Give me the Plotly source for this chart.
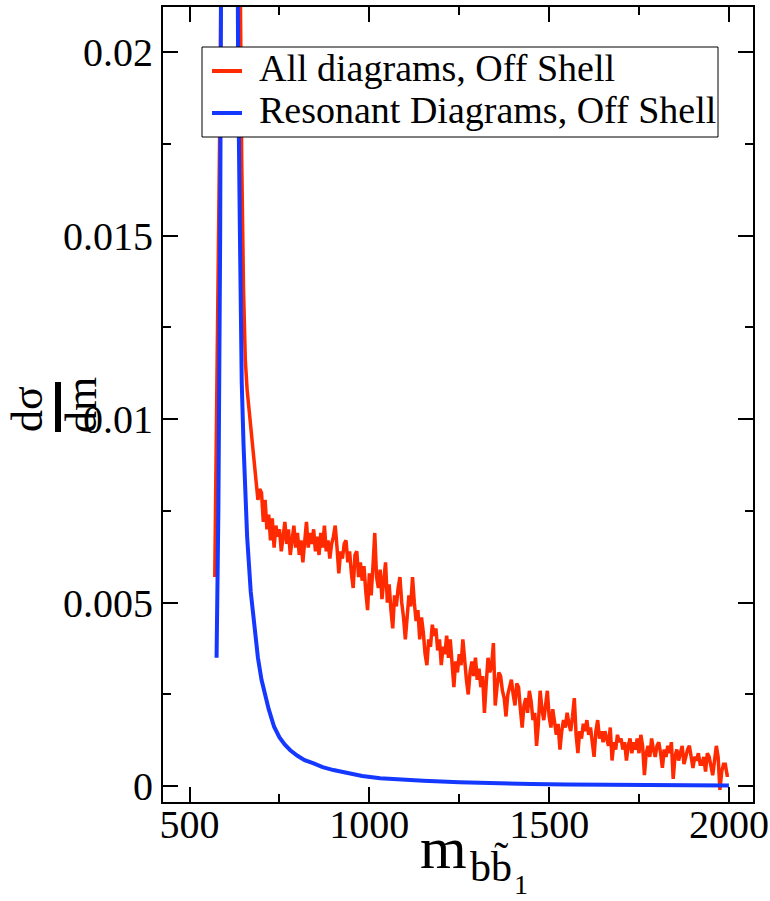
import plotly.graph_objects as go

# %%
# differential cross section (5 GeV bins)
red_x = list(range(570, 2001, 5))
red_y = [
    # 570 - 695, through the peak
    0.0057, 0.0100, 0.0145, 0.0190, 0.0260, 0.0400, 0.0600, 0.0780, 0.0850, 0.0800,
    0.0650, 0.0480, 0.0350, 0.0280, 0.0225, 0.0170, 0.0135, 0.0116, 0.0108, 0.0103,
    0.0097, 0.0093, 0.0088, 0.0084, 0.0078, 0.0081,
    # 700 - 995
    0.0080, 0.0072, 0.0078, 0.0070, 0.0074, 0.0067, 0.0073, 0.0065, 0.0071, 0.0068,
    0.0070, 0.0064, 0.0069, 0.0072, 0.0066, 0.0070, 0.0063, 0.0068, 0.0071, 0.0065,
    0.0069, 0.0063, 0.0067, 0.0061, 0.0068, 0.0072, 0.0065, 0.0069, 0.0066, 0.0070,
    0.0064, 0.0068, 0.0063, 0.0069, 0.0065, 0.0071, 0.0064, 0.0067, 0.0062, 0.0066,
    0.0068, 0.0071, 0.0065, 0.0058, 0.0064, 0.0062, 0.0066, 0.0067, 0.0061, 0.0064,
    0.0058, 0.0054, 0.0063, 0.0064, 0.0057, 0.0061, 0.0056, 0.0060, 0.0053, 0.0048,
    # 1000 - 1295
    0.0058, 0.0052, 0.0060, 0.0069, 0.0057, 0.0054, 0.0059, 0.0051, 0.0056, 0.0061,
    0.0050, 0.0055, 0.0048, 0.0043, 0.0052, 0.0049, 0.0054, 0.0057, 0.0050, 0.0046,
    0.0040, 0.0047, 0.0052, 0.0049, 0.0057, 0.0050, 0.0045, 0.0048, 0.0040, 0.0046,
    0.0042, 0.0036, 0.0033, 0.0040, 0.0038, 0.0044, 0.0041, 0.0043, 0.0037, 0.0040,
    0.0033, 0.0038, 0.0036, 0.0041, 0.0035, 0.0040, 0.0032, 0.0027, 0.0034, 0.0031,
    0.0036, 0.0033, 0.0040, 0.0034, 0.0029, 0.0025, 0.0031, 0.0034, 0.0030, 0.0035,
    # 1300 - 1595
    0.0029, 0.0032, 0.0027, 0.0030, 0.0020, 0.0028, 0.0035, 0.0031, 0.0033, 0.0039,
    0.0022, 0.0027, 0.0031, 0.0030, 0.0026, 0.0024, 0.0019, 0.0025, 0.0027, 0.0029,
    0.0025, 0.0022, 0.0028, 0.0027, 0.0021, 0.0016, 0.0022, 0.0024, 0.0020, 0.0026,
    0.0023, 0.0018, 0.0020, 0.0011, 0.0017, 0.0026, 0.0021, 0.0018, 0.0022, 0.0026,
    0.0019, 0.0016, 0.0021, 0.0018, 0.0014, 0.0017, 0.0010, 0.0015, 0.0018, 0.0016,
    0.0020, 0.0017, 0.0015, 0.0019, 0.0024, 0.0014, 0.0009, 0.0015, 0.0013, 0.0017,
    # 1600 - 1895
    0.0015, 0.0018, 0.0014, 0.0016, 0.0011, 0.0008, 0.0015, 0.0018, 0.0013, 0.0015,
    0.0012, 0.0015, 0.0013, 0.0011, 0.0016, 0.0007, 0.0012, 0.0010, 0.0014, 0.0012,
    0.0013, 0.0010, 0.0012, 0.0007, 0.0011, 0.0013, 0.0009, 0.0012, 0.0010, 0.0013,
    0.0009, 0.0014, 0.0011, 0.0003, 0.0009, 0.0011, 0.0008, 0.0013, 0.0010, 0.0008,
    0.0011, 0.0012, 0.0009, 0.0005, 0.0010, 0.0008, 0.0011, 0.0009, 0.0012, 0.0002,
    0.0008, 0.0010, 0.0007, 0.0009, 0.0011, 0.0006, 0.0008, 0.0010, 0.0011, 0.0008,
    # 1900 - 2000
    0.0005, 0.0008, 0.0007, 0.0009, 0.0006, 0.0006, 0.0008, 0.0004, 0.0009, 0.0008,
    0.0006, 0.0003, 0.0007, 0.0011, 0.0008, -0.0001, 0.0004, 0.0006, 0.0006, 0.0003,
    0.0003,
]

blue_x = [
    575, 580, 585, 590, 595, 600, 605, 610, 615, 620,
    625, 630, 635, 640, 645, 650, 655, 660, 670, 680,
    690, 700, 710, 720, 735, 750, 765, 780, 800, 820,
    845, 870, 900, 940, 980, 1030, 1080, 1150, 1250, 1350,
    1450, 1550, 1650, 1750, 1850, 1950, 2000,
]
blue_y = [
    0.0035, 0.0075, 0.0150, 0.0260, 0.0420, 0.0620, 0.0800, 0.0850, 0.0780, 0.0600,
    0.0420, 0.0270, 0.0195, 0.0150, 0.0110, 0.0093, 0.0079, 0.0068, 0.0053, 0.0043,
    0.0035, 0.0029, 0.00245, 0.0021, 0.00162, 0.00133, 0.00113, 0.00098, 0.00083, 0.00071,
    0.00062, 0.00052, 0.00044, 0.00035, 0.00028, 0.00022, 0.00018, 0.00015, 0.00011, 0.00008,
    0.00006, 0.00005, 0.00004, 0.00003, 0.00003, 0.00002, 0.00002,
]

series_names = ["All diagrams, Off Shell", "Resonant Diagrams, Off Shell"]
series_colors = ["#ff2a00", "#1438ff"]
x_ticks = [500, 1000, 1500, 2000]
y_ticks = [0, 0.005, 0.01, 0.015, 0.02]

# %%
FONT = "Liberation Serif"
W, H = 770, 901
L, R, T, B = 163, 17, 7, 99


def px2paper(px, py):
    """pixel position in the page -> paper coords"""
    return (px - L) / (W - L - R), (H - B - py) / (H - T - B)


fig = go.Figure()
fig.add_trace(
    go.Scatter(
        x=red_x, y=red_y, mode="lines", name=series_names[0],
        line={"color": series_colors[0], "width": 3.5},
    )
)
fig.add_trace(
    go.Scatter(
        x=blue_x, y=blue_y, mode="lines", name=series_names[1],
        line={"color": series_colors[1], "width": 4},
    )
)

minor_style = {"ticks": "inside", "ticklen": 8, "tickwidth": 1.5, "tickcolor": "black"}
axis_style = dict(
    showgrid=False, zeroline=False, showline=True, linecolor="black", linewidth=2,
    mirror="ticks", ticks="inside", ticklen=15, tickwidth=1.5, tickcolor="black",
    tickfont={"family": FONT, "size": 40, "color": "black"}, automargin=False,
)
fig.update_xaxes(
    range=[426, 2067], tickvals=x_ticks, ticklabelstandoff=-14,
    minor={"dtick": 250, "tick0": 0, **minor_style},
    **axis_style,
)
fig.update_yaxes(
    range=[-0.00043, 0.02123], tickvals=y_ticks,
    ticktext=["0", "0.005", "0.01", "0.015", "0.02"],
    minor={"dtick": 0.0025, "tick0": 0, **minor_style},
    **axis_style,
)

fig.update_layout(
    width=W, height=H,
    margin={"l": L, "r": R, "t": T, "b": B, "pad": 0},
    plot_bgcolor="white", paper_bgcolor="white",
    font={"family": FONT, "color": "black"},
    showlegend=False,
)

# legend drawn by hand so the box matches the original
bx0, by0 = px2paper(202, 137)
bx1, by1 = px2paper(718, 47)
fig.add_shape(
    type="rect", xref="paper", yref="paper", x0=bx0, x1=bx1, y0=by0, y1=by1,
    fillcolor="white", line={"color": "black", "width": 1}, layer="above",
)
for i, (name, color) in enumerate(zip(series_names, series_colors)):
    line_y = 71 + 42 * i
    sx0, sy = px2paper(212, line_y)
    sx1, _ = px2paper(242, line_y)
    fig.add_shape(
        type="line", xref="paper", yref="paper", x0=sx0, x1=sx1, y0=sy, y1=sy,
        line={"color": color, "width": 4}, layer="above",
    )
    tx, ty = px2paper(257, line_y - 3)
    fig.add_annotation(
        x=tx, y=ty, xref="paper", yref="paper", text=name, showarrow=False,
        xanchor="left", yanchor="middle",
        font={"family": FONT, "size": 38, "color": "black"},
    )

# axis titles: m_{b b~_1} and the dsigma/dm fraction
for text, size, (px, py), angle in [
    ("m", 60, (443, 848), 0),
    ("bb\u0303", 42, (491, 866), 0),
    ("1", 28, (521, 884), 0),
    ("d\u03c3", 44, (27, 409), -90),
    ("dm", 44, (81, 405), -90),
]:
    ax, ay = px2paper(px, py)
    fig.add_annotation(
        x=ax, y=ay, xref="paper", yref="paper", text=text, showarrow=False,
        textangle=angle, xanchor="center", yanchor="middle",
        font={"family": FONT, "size": size, "color": "black"},
    )

x0, y0 = px2paper(55, 432)
x1, y1 = px2paper(61, 382)
fig.add_shape(
    type="rect", xref="paper", yref="paper", x0=x0, x1=x1, y0=y0, y1=y1,
    fillcolor="black", line={"width": 0},
)

# the default page adds an 8px body margin, drop it
fig.write_html(
    "out.html",
    config={"displayModeBar": False},
    post_script="document.body.style.margin = '0';",
)
